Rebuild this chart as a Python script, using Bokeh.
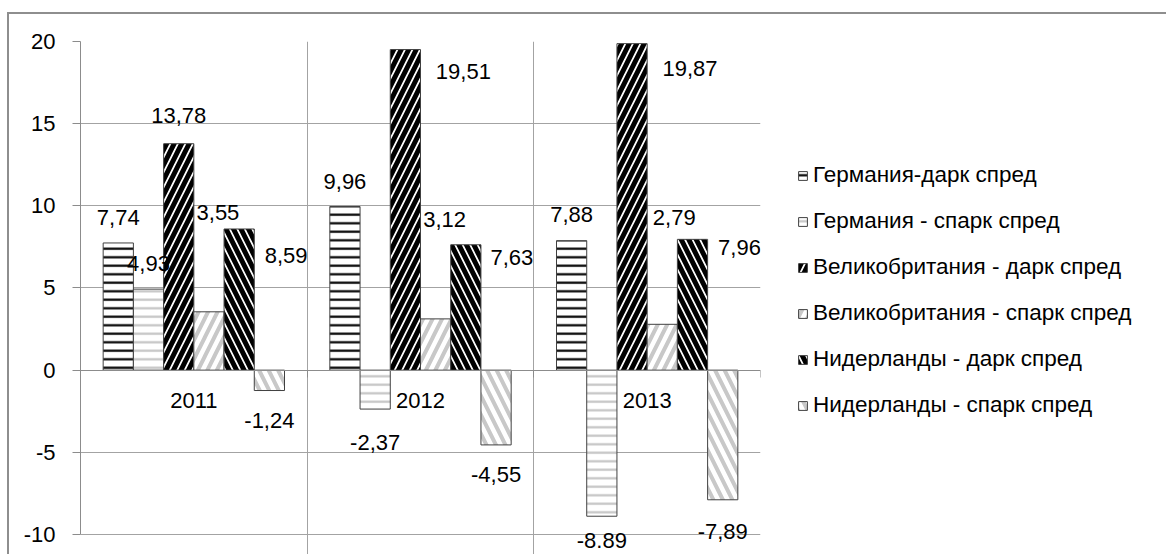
from bokeh.plotting import figure
from bokeh.models import (ColumnDataSource, LinearAxis, FixedTicker, Grid, Legend,
                          LegendItem, LabelSet, Range1d)
from bokeh.core.properties import value
from bokeh.embed import file_html
from bokeh.resources import INLINE

# ---------------- data ----------------
years = ["2011", "2012", "2013"]
series_names = [
    "Германия-дарк спред",
    "Германия - спарк спред",
    "Великобритания - дарк спред",
    "Великобритания - спарк спред",
    "Нидерланды - дарк спред",
    "Нидерланды - спарк спред",
]
de_dark = [7.74, 9.96, 7.88]
de_spark = [4.93, -2.37, -8.89]
uk_dark = [13.78, 19.51, 19.87]
uk_spark = [3.55, 3.12, 2.79]
nl_dark = [8.59, 7.63, 7.96]
nl_spark = [-1.24, -4.55, -7.89]
values = [de_dark, de_spark, uk_dark, uk_spark, nl_dark, nl_spark]

label_texts = [
    ["7,74", "9,96", "7,88"],
    ["4,93", "-2,37", "-8.89"],
    ["13,78", "19,51", "19,87"],
    ["3,55", "3,12", "2,79"],
    ["8,59", "7,63", "7,96"],
    ["-1,24", "-4,55", "-7,89"],
]
y_ticks = [-10, -5, 0, 5, 10, 15, 20]

# label placement (as in the reference): pixel shift and data-y of label centre
label_dx = [[0, 0, 0], [0, 0, 0], [0, 58, 58], [9, 9, 12], [47, 46, 47], [0, 0, 0]]
label_y = [[9.29, 11.49, 9.48], [6.49, -4.40, -10.35], [15.50, 18.18, 18.36],
           [9.60, 9.17, 9.29], [6.98, 6.86, 7.47], [-3.06, -6.37, -9.82]]

# ---------------- styles ----------------
FONT = "Liberation Sans"
FS = "22px"
GRID = "#a3a3a3"
AXIS = "#8c8c8c"
styles = [
    dict(hatch_pattern="horizontal_line", hatch_color="black", hatch_weight=2.2, hatch_scale=8.5),
    dict(hatch_pattern="horizontal_line", hatch_color="#c4c4c4", hatch_weight=2.2, hatch_scale=8.5),
    dict(hatch_pattern="right_diagonal_line", hatch_color="black", hatch_weight=5, hatch_scale=15),
    dict(hatch_pattern="right_diagonal_line", hatch_color="#c8c8c8", hatch_weight=4, hatch_scale=19),
    dict(hatch_pattern="left_diagonal_line", hatch_color="black", hatch_weight=5, hatch_scale=15),
    dict(hatch_pattern="left_diagonal_line", hatch_color="#c8c8c8", hatch_weight=4, hatch_scale=19),
]

n_series = len(values)
group = 0.8
bw = group / n_series
y_bottom = -11.28  # frame extends a little below the lowest tick, like the cropped original

p = figure(frame_width=680, frame_height=514,
           x_range=Range1d(0, len(years)), y_range=Range1d(y_bottom, y_ticks[-1]),
           x_axis_type=None, y_axis_type=None,
           output_backend="svg", toolbar_location=None,
           min_border_left=71, min_border_top=27, min_border_right=400, min_border_bottom=10,
           background_fill_color="white", border_fill_color="white", outline_line_color=None)
p.margin = (12, 0, 0, 7)
p.styles = {"border-top": "2px solid #8e8e8e", "border-left": "2px solid #8e8e8e",
            "border-right": "2px solid #8e8e8e"}

# axes
yaxis = LinearAxis(ticker=FixedTicker(ticks=y_ticks), bounds=(y_ticks[0], y_ticks[-1]))
yaxis.major_label_overrides = {t: str(t) for t in y_ticks}
yaxis.axis_line_color = AXIS
yaxis.major_tick_line_color = AXIS
yaxis.major_tick_out = 8
yaxis.major_tick_in = 0
yaxis.minor_tick_line_color = None
yaxis.major_label_text_font = FONT
yaxis.major_label_text_font_size = FS
yaxis.major_label_text_color = "black"
yaxis.major_label_standoff = 17
p.add_layout(yaxis, "left")

xaxis = LinearAxis(ticker=FixedTicker(ticks=[i + 0.5 for i in range(len(years))],
                                      minor_ticks=list(range(len(years) + 1))),
                   fixed_location=0)
xaxis.major_label_overrides = {i + 0.5: y for i, y in enumerate(years)}
xaxis.axis_line_color = AXIS
xaxis.major_tick_line_color = None
xaxis.minor_tick_line_color = AXIS
xaxis.minor_tick_out = 7
xaxis.minor_tick_in = 0
xaxis.major_label_text_font = FONT
xaxis.major_label_text_font_size = FS
xaxis.major_label_text_color = "black"
xaxis.major_label_standoff = 16
p.add_layout(xaxis, "below")

p.add_layout(Grid(dimension=1, ticker=FixedTicker(ticks=y_ticks), grid_line_color=GRID))
p.add_layout(Grid(dimension=0, ticker=FixedTicker(ticks=list(range(1, len(years) + 1))),
                  grid_line_color=GRID, bounds=(y_ticks[0], y_ticks[-1])))

items = []
lab_x, lab_y, lab_t, lab_dx = [], [], [], []
for j, (name, vals, st) in enumerate(zip(series_names, values, styles)):
    xs = [i + 0.5 + (j - (n_series - 1) / 2) * bw for i in range(len(years))]
    src = ColumnDataSource(dict(x=xs, top=vals))
    r = p.vbar(x="x", top="top", bottom=0, width=bw, source=src,
               fill_color="white", line_color="#404040", line_width=1, **st)
    items.append(LegendItem(label=name, renderers=[r]))
    lab_x += xs
    lab_y += label_y[j]
    lab_t += label_texts[j]
    lab_dx += label_dx[j]

lsrc = ColumnDataSource(dict(x=lab_x, y=lab_y, t=lab_t, dx=lab_dx))
p.add_layout(LabelSet(x="x", y="y", text="t", x_offset="dx", source=lsrc,
                      text_font=value(FONT), text_font_size=value(FS), text_color="black",
                      text_align="center", text_baseline="middle"))

legend = Legend(items=items, location=(37, 137), orientation="vertical",
                glyph_width=11, glyph_height=11, label_height=26, spacing=20,
                label_standoff=5, padding=0, margin=0,
                label_text_font=FONT, label_text_font_size="22.5px", label_text_color="black",
                border_line_color=None, background_fill_alpha=0)
p.add_layout(legend, "right")

open("out.html", "w").write(file_html(p, INLINE))
